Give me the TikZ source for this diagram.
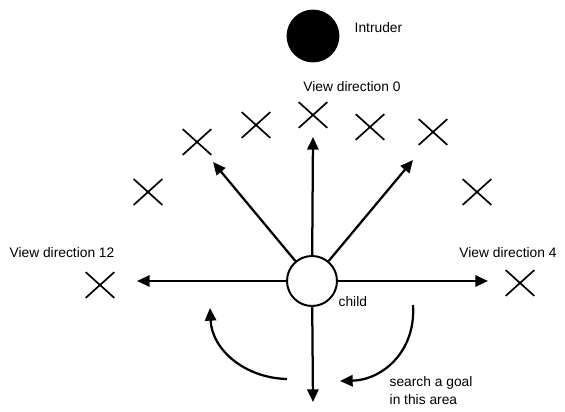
\documentclass[tikz,border=0pt]{standalone}
\usepackage{fontspec}
\setmainfont{Liberation Sans}
\usetikzlibrary{arrows.meta,shapes.misc}

\tikzset{
  spot/.style={cross out,draw=black,line width=1.2pt,inner sep=0pt,minimum width=.67cm,minimum height=.6cm},
  ray/.style={line width=1.6pt,-{Triangle[length=9pt,width=8pt]}},
  turn/.style={line width=1.6pt,-{Triangle[length=9pt,width=8pt]}},
  lbl/.style={font=\fontsize{9.8}{12.5}\selectfont,inner sep=1pt}
}

\begin{document}
\begin{tikzpicture}[x=.025cm,y=-.025cm]
\useasboundingbox (0,0) rectangle (565,412);
% intruder and the child
\node[circle,fill=black,minimum size=1.32cm,inner sep=0pt] (intruder) at (313,36) {};
\node[lbl,anchor=west] (intrlbl) at (353,28) {Intruder};
\node[circle,draw,line width=1.4pt,minimum size=1.25cm,inner sep=0pt] (child) at (312,281) {};
\node[lbl,anchor=west] (childlbl) at (337,302) {child};
% candidate positions
\node[spot] (p0) at (313,115) {};
\node[spot] (p1) at (370,127) {};
\node[spot] (p2) at (433,132) {};
\node[spot] (p3) at (477,192) {};
\node[spot] (p4) at (520,283) {};
\node[spot] (m1) at (256,125) {};
\node[spot] (m2) at (197,142) {};
\node[spot] (m3) at (148,192) {};
\node[spot] (m4) at (100,285) {};
\node[lbl] (dir0) at (352,87) {View direction 0};
\node[lbl] (dir4) at (508,253) {View direction 4};
\node[lbl] (dir12) at (62,253) {View direction 12};
\node[lbl,anchor=north west,align=left] (area) at (388,375) {search a goal\\in this area};
% view directions
\coordinate (t0) at (313,137);
\coordinate (tl) at (213,162);
\coordinate (tr) at (413,160);
\coordinate (t12) at (137,281);
\coordinate (t4) at (488,281);
\coordinate (tdown) at (313,402);
\draw[ray] (child) -- (t0);
\draw[ray] (child) -- (tl);
\draw[ray] (child) -- (tr);
\draw[ray] (child) -- (t12);
\draw[ray] (child) -- (t4);
\draw[ray] (child) -- (tdown);
% turning round
\coordinate (la) at (287,379);
\coordinate (lb) at (210,308);
\coordinate (ra) at (413,305);
\coordinate (rb) at (340,381);
\draw[turn] (la) .. controls (245,378) and (212,350) .. (lb);
\draw[turn] (ra) .. controls (416,352) and (382,380) .. (rb);
\end{tikzpicture}
\end{document}
